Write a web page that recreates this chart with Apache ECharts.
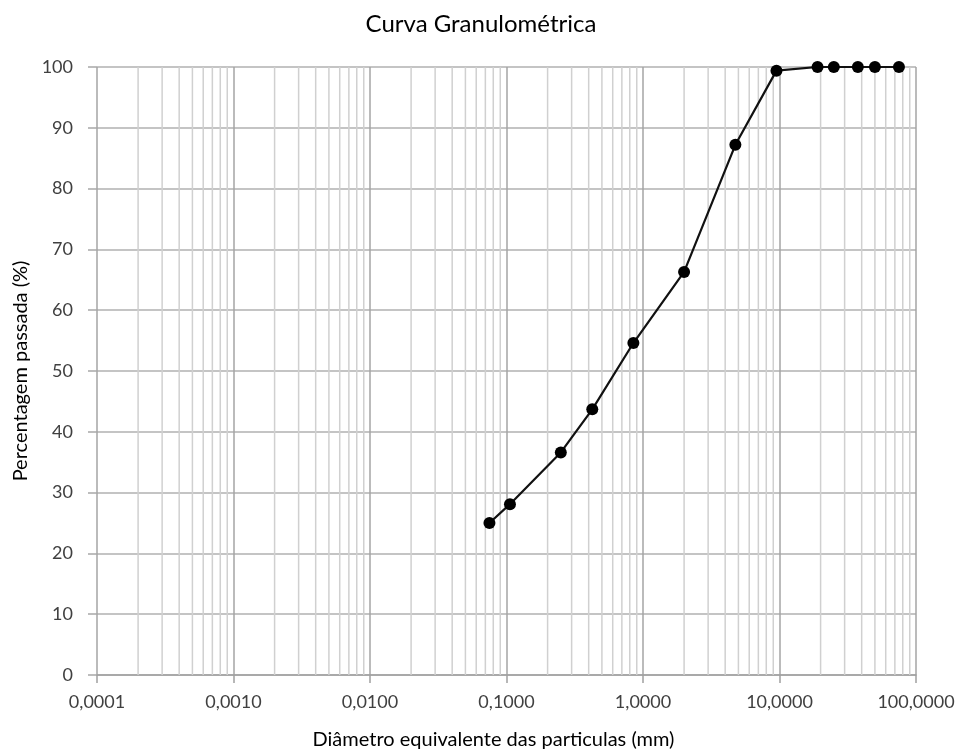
<!DOCTYPE html>
<html>
<head>
<meta charset="utf-8">
<script src="https://cdn.jsdelivr.net/npm/echarts@6/dist/echarts.min.js"></script>
<style>html,body{margin:0;padding:0;background:#fff}#c{width:963px;height:755px}</style>
</head>
<body>
<div id="c"></div>
<script>
var diameters = [0.075, 0.106, 0.25, 0.425, 0.85, 2.0, 4.75, 9.5, 19, 25, 37.5, 50, 75];
var passing   = [25.0, 28.1, 36.6, 43.7, 54.6, 66.3, 87.2, 99.4, 100, 100, 100, 100, 100];
var xTickLabels = ['0,0001', '0,0010', '0,0100', '0,1000', '1,0000', '10,0000', '100,0000'];
var decades = [0.0001, 0.001, 0.01, 0.1, 1, 10];
var minorMultipliers = [2, 3, 4, 5, 6, 7, 8, 9];

var minorValues = [];
decades.forEach(function (d) {
  minorMultipliers.forEach(function (m) {
    minorValues.push([+(d * m).toPrecision(6), 0]);
  });
});

var FONT = 'Lato, "Open Sans", sans-serif';
var chart = echarts.init(document.getElementById('c'), null, { renderer: 'canvas' });
chart.setOption({
  animation: false,
  backgroundColor: '#fff',
  title: {
    text: 'Curva Granulométrica',
    left: 476, top: 7, textAlign: 'center',
    textStyle: { fontFamily: FONT, fontSize: 24, fontWeight: 'normal', color: '#000' }
  },
  grid: { left: 97, right: 47, top: 67, bottom: 80, containLabel: false },
  xAxis: {
    type: 'log', logBase: 10, min: 0.0001, max: 100,
    name: 'Diâmetro equivalente das particulas (mm)',
    nameLocation: 'middle', nameGap: 55,
    nameTextStyle: { fontFamily: FONT, fontSize: 20, color: '#000', padding: [0, 26, 0, 0] },
    axisLine: { show: true, lineStyle: { color: '#a0a0a0', width: 1.5 } },
    axisTick: { show: true, length: 8, lineStyle: { color: '#a0a0a0', width: 1.5 } },
    axisLabel: {
      fontFamily: FONT, fontSize: 18, color: '#404040', margin: 18,
      formatter: function (v) {
        var i = Math.round(Math.log10(v) + 4);
        return xTickLabels[i] !== undefined ? xTickLabels[i] : '';
      }
    },
    splitLine: { show: true, lineStyle: { color: '#a4a4a4', width: 1.5 } }
  },
  yAxis: {
    type: 'value', min: 0, max: 100, interval: 10,
    name: 'Percentagem passada (%)',
    nameLocation: 'middle', nameGap: 65, nameRotate: 90,
    nameTextStyle: { fontFamily: FONT, fontSize: 20, color: '#000' },
    axisLine: { show: false },
    axisTick: { show: true, length: 9, lineStyle: { color: '#a8a8a8', width: 1.5 } },
    axisLabel: { fontFamily: FONT, fontSize: 18, color: '#404040', margin: 24 },
    splitLine: { show: true, lineStyle: { color: '#b0b0b0', width: 1.6 } }
  },
  series: [
    {
      type: 'custom', silent: true, z: 1,
      encode: { x: 0, y: 1 },
      data: minorValues,
      renderItem: function (params, api) {
        var x = api.value(0);
        var p1 = api.coord([x, 0]);
        var p2 = api.coord([x, 100]);
        return {
          type: 'line',
          shape: { x1: p1[0], y1: p1[1], x2: p2[0], y2: p2[1] },
          style: { stroke: '#d0d0d0', lineWidth: 1.5 }
        };
      }
    },
    {
      type: 'line', z: 5,
      data: diameters.map(function (d, i) { return [d, passing[i]]; }),
      symbol: 'circle', symbolSize: 12,
      itemStyle: { color: '#000' },
      lineStyle: { color: '#111', width: 2.2 }
    }
  ]
});
</script>
</body>
</html>
